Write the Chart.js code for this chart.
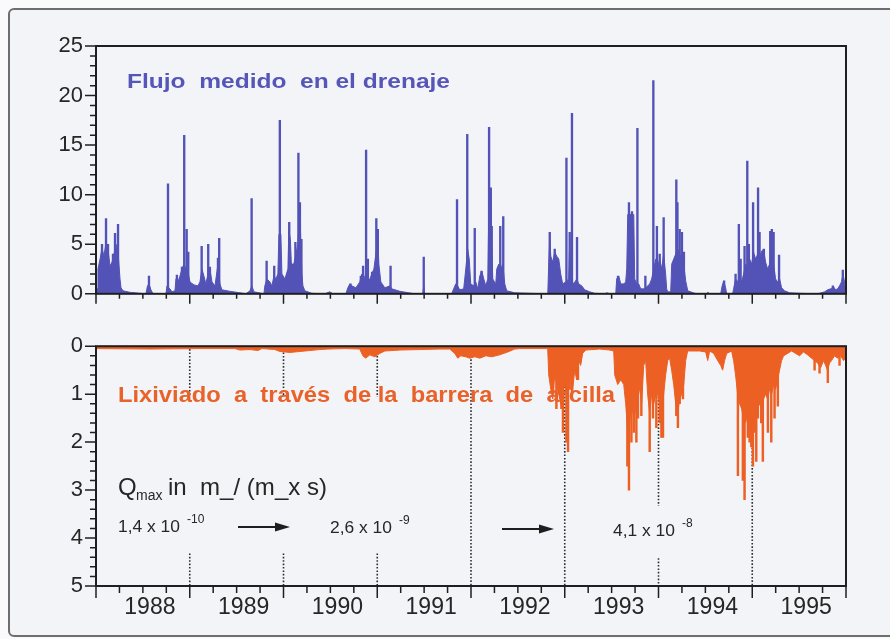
<!DOCTYPE html>
<html><head><meta charset="utf-8">
<script src="https://cdn.jsdelivr.net/npm/chart.js@4.4.1/dist/chart.umd.min.js"></script>
<style>
html,body{margin:0;padding:0;background:#fafafc;width:890px;height:639px;overflow:hidden;}
#frame{position:absolute;left:8px;top:8px;width:900px;height:625px;border:2px solid #6e6e6e;border-radius:6px;background:#f3f4f8;}
.cv{position:absolute;left:0;}
</style></head><body>
<div id="frame"></div>
<div class="cv" style="top:0"><canvas id="c1" width="890" height="320"></canvas></div>
<div class="cv" style="top:320px"><canvas id="c2" width="890" height="319"></canvas></div>
<script>
// ---------- categories / tick labels ----------
const yearLabels = ['1988','1989','1990','1991','1992','1993','1994','1995'];
const flowTicks = [0,5,10,15,20,25];
const leachTicks = [0,1,2,3,4,5];

// ---------- top panel: drainage flow (envelope + peaks) ----------
const flowEnvT = [
 1988.000,1988.011,1988.021,1988.043,1988.064,1988.085,1988.107,1988.128,1988.149,1988.171,1988.192,1988.213,1988.235,1988.256,1988.267,1988.288,1988.362,1988.469,
 1988.533,1988.549,1988.565,1988.586,1988.608,1988.746,1988.757,1988.789,1988.810,1988.842,1988.853,1988.874,1988.896,1988.917,1988.938,1988.959,1988.981,
 1989.002,1989.045,1989.087,1989.109,1989.130,1989.151,1989.172,1989.194,1989.215,1989.237,1989.269,1989.301,1989.322,1989.343,1989.428,1989.535,
 1989.599,1989.642,1989.663,1989.684,1989.791,1989.801,1989.823,1989.855,1989.876,1989.898,1989.919,1989.940,1989.951,1989.972,1989.983,
 1990.015,1990.047,1990.057,1990.073,1990.084,1990.110,1990.132,1990.153,1990.175,1990.185,1990.196,1990.207,1990.228,1990.302,1990.441,1990.494,1990.526,
 1990.665,1990.686,1990.708,1990.729,1990.772,1990.814,1990.836,1990.857,1990.878,1990.900,1990.921,1990.942,1990.964,1990.985,
 1991.006,1991.017,1991.038,1991.081,1991.134,1991.155,1991.241,1991.336,1991.400,1991.485,1991.496,1991.506,
 1991.794,1991.815,1991.837,1991.858,1991.880,1991.922,1991.944,1991.965,1991.981,1991.997,
 1992.029,1992.051,1992.072,1992.094,1992.115,1992.136,1992.158,1992.179,1992.189,1992.211,1992.221,1992.232,1992.264,1992.275,1992.296,1992.318,1992.339,1992.360,1992.381,1992.467,1992.627,
 1992.819,1992.829,1992.840,1992.851,1992.872,1992.893,1992.914,1992.936,1992.957,1992.978,
 1993.010,1993.042,1993.053,1993.064,1993.096,1993.128,1993.149,1993.181,1993.213,1993.266,1993.320,1993.426,1993.448,1993.480,
 1993.544,1993.554,1993.576,1993.597,1993.629,1993.650,1993.661,1993.672,1993.736,1993.746,1993.768,1993.789,1993.810,1993.842,1993.863,1993.906,1993.927,1993.949,1993.970,1993.991,
 1994.013,1994.034,1994.055,1994.076,1994.087,1994.098,1994.130,1994.141,1994.162,1994.183,1994.205,1994.226,1994.247,1994.269,1994.290,1994.312,1994.386,1994.439,
 1994.514,1994.525,1994.546,1994.663,1994.679,1994.695,1994.716,1994.727,1994.791,1994.801,1994.822,1994.844,1994.865,1994.886,1994.908,1994.929,1994.951,1994.972,1994.993,
 1995.014,1995.036,1995.057,1995.078,1995.100,1995.121,1995.142,1995.164,1995.185,1995.206,1995.228,1995.249,1995.270,1995.292,1995.313,1995.345,1995.398,1995.505,
 1995.697,1995.772,1995.804,1995.836,1995.868,1995.889,1995.910,1995.931,1995.952,1995.968,1995.984,1995.995];
const flowEnvV = [
 0,0.5,2.5,3.5,4.6,3.8,5.2,4.5,2.8,3.2,4.0,5.0,4.2,1.5,0.6,0.3,0.15,0.05,
 0,0.8,1.0,0.4,0,0,0.8,0.5,0.2,0.3,1.5,1.2,1.8,2.5,3.0,2.5,2.2,
 1.2,0.9,0.8,1.2,2.5,1.8,1.0,2.0,2.5,1.2,0.8,3.0,1.0,0.4,0.25,0.1,
 0,0.3,0.8,0.2,0,0.8,1.5,1.2,0.8,1.8,1.5,2.0,6.0,6.0,2.0,
 1.5,2.5,6.5,5.5,3.0,3.0,4.0,5.0,9.0,5.0,2.0,0.8,0.3,0.05,0,0.2,0,
 0,0.6,1.0,0.8,0.6,1.2,2.0,1.5,2.0,1.2,1.5,2.0,2.5,4.0,
 5.5,3.0,1.2,0.6,0.8,0.5,0.25,0.1,0,0,0.8,0,
 0,0.5,1.0,0.8,0.4,0.5,2.5,4.5,3.5,1.0,
 0.8,1.2,0.5,1.8,2.3,1.5,0.8,1.5,8.0,10.5,5.0,1.5,1.0,2.5,3.0,2.5,3.0,1.0,0.3,0.1,0.05,
 0,3.0,5.5,3.8,3.2,4.2,3.8,3.5,2.0,1.0,
 1.2,1.5,5.5,1.5,1.0,1.5,1.0,0.8,0.4,0.2,0.05,0,0.1,0,
 0,1.5,1.8,1.0,1.0,1.2,2.5,8.0,8.0,1.5,1.0,1.0,0.5,0.5,0.6,1.0,1.5,2.5,3.5,2.8,
 3.5,2.5,4.0,2.0,0.5,0.2,0.2,3.0,3.5,4.0,4.5,4.0,3.5,3.0,1.3,0.3,0.05,0,
 0,0.15,0,0,0.8,1.3,0.6,0,0,0.5,1.5,1.2,1.8,1.2,2.0,3.0,2.5,3.5,3.0,
 4.2,3.5,4.0,3.6,4.3,4.5,3.2,2.5,3.0,4.5,3.0,1.5,1.2,1.5,0.6,0.3,0.1,0.05,
 0,0.2,0.4,0.5,0.7,0.4,0.5,0.8,1.2,2.0,1.2,0.3];
const flowPeakT = [
 1988.064,1988.107,1988.128,1988.181,1988.203,1988.235,1988.565,1988.768,1988.863,1988.917,1988.941,1988.967,1988.984,
 1989.127,1989.197,1989.215,1989.301,1989.314,1989.660,1989.820,1989.901,1989.961,
 1990.061,1990.127,1990.159,1990.175,1990.191,1990.715,1990.825,1990.849,1990.881,1990.900,1990.945,1990.990,
 1991.006,1991.142,1991.496,1991.851,1991.960,
 1992.040,1992.112,1992.193,1992.211,1992.221,1992.312,1992.344,1992.840,1992.893,
 1993.018,1993.053,1993.077,1993.131,1993.568,1993.685,1993.717,1993.775,1993.860,1993.945,1993.983,
 1994.013,1994.055,1994.190,1994.202,1994.226,1994.250,1994.271,1994.700,1994.822,1994.857,1994.876,1994.918,1994.947,1994.964,
 1995.009,1995.062,1995.078,1995.124,1995.192,1995.209,1995.228,1995.286,1995.860,1995.966];
const flowPeakV = [
 5.0,7.6,5.0,4.0,6.1,7.0,1.8,11.1,1.9,2.7,16.0,6.5,4.2,
 4.8,5.0,2.7,3.6,5.6,9.6,3.3,2.8,17.5,
 7.2,5.2,14.2,9.2,5.5,1.0,1.8,2.8,14.5,3.5,2.2,7.6,
 6.5,2.8,3.7,9.5,16.1,
 6.6,2.3,16.8,10.7,6.8,6.8,7.8,6.2,4.5,
 13.7,6.2,18.2,5.7,1.8,9.2,8.3,16.7,1.8,21.5,6.8,
 4.0,7.7,11.5,9.2,6.5,6.2,4.2,1.3,2.0,7.0,3.5,4.8,13.4,5.0,
 9.2,10.7,6.2,4.5,6.3,6.5,6.2,3.9,0.8,2.4];

// ---------- bottom panel: leachate through clay barrier ----------
const leachEnvT = [
 1988.000,1988.576,1989.109,1989.482,1989.535,1989.642,1989.727,1989.770,1989.908,1989.961,1990.068,1990.175,1990.281,1990.388,1990.473,1990.654,1990.814,1990.846,1990.878,1990.921,1990.974,1991.027,1991.081,1991.241,1991.454,1991.667,1991.773,1991.827,1991.859,1991.891,1991.944,1991.987,
 1992.040,1992.094,1992.158,1992.221,1992.306,1992.392,1992.466,1992.520,1992.818,
 1992.829,1992.851,1992.872,1992.893,1992.914,1992.936,1992.957,1992.978,1992.999,1993.021,1993.042,1993.063,1993.085,1993.106,1993.127,1993.149,1993.170,1993.191,1993.223,1993.372,1993.479,1993.522,
 1993.533,1993.565,1993.597,1993.629,1993.650,1993.672,1993.693,1993.714,1993.736,1993.757,1993.778,1993.799,1993.820,1993.842,1993.863,1993.884,1993.906,1993.927,1993.949,1993.970,1993.991,
 1994.013,1994.034,1994.055,1994.076,1994.098,1994.119,1994.140,1994.162,1994.183,1994.204,1994.226,1994.247,1994.269,1994.290,1994.311,1994.439,1994.503,1994.525,1994.546,1994.588,1994.631,1994.663,1994.684,1994.705,1994.727,1994.780,
 1994.801,1994.822,1994.844,1994.865,1994.886,1994.908,1994.929,1994.951,1994.972,1994.993,
 1995.014,1995.036,1995.057,1995.078,1995.100,1995.121,1995.142,1995.164,1995.185,1995.206,1995.228,1995.249,1995.270,1995.291,1995.313,1995.334,1995.377,1995.419,1995.462,1995.505,1995.547,1995.590,1995.633,1995.665,1995.697,1995.729,1995.761,1995.782,1995.803,1995.825,1995.846,1995.878,1995.910,1995.942,1995.974,1995.995];
const leachEnvV = [
 0.05,0.06,0.05,0.05,0.08,0.07,0.09,0.05,0.07,0.11,0.13,0.11,0.09,0.07,0.06,0.05,0.06,0.2,0.25,0.18,0.22,0.15,0.1,0.08,0.07,0.06,0.06,0.15,0.25,0.2,0.22,0.25,
 0.22,0.25,0.2,0.22,0.18,0.12,0.06,0.05,0.05,
 0.6,0.9,1.1,0.6,0.8,1.0,1.2,1.0,0.8,1.0,0.7,0.6,0.9,0.5,0.7,0.3,0.4,0.15,0.08,0.06,0.08,0.1,
 0.6,0.8,0.7,0.8,1.2,1.8,1.6,1.2,1.5,1.3,1.0,0.9,1.2,0.4,0.3,1.0,1.4,1.0,1.2,1.0,1.0,
 1.2,1.5,1.0,0.6,0.3,0.25,0.5,0.8,1.2,1.4,1.1,1.0,0.8,0.3,0.1,0.1,0.12,0.3,0.1,0.15,0.3,0.4,0.5,0.3,0.15,0.1,
 0.3,0.6,1.0,1.2,1.3,1.5,1.6,1.4,1.5,1.6,
 1.5,1.4,1.3,1.2,1.3,1.1,1.0,1.1,0.9,1.0,0.8,0.9,0.7,0.5,0.3,0.2,0.15,0.1,0.15,0.2,0.12,0.18,0.25,0.3,0.35,0.45,0.3,0.4,0.5,0.35,0.3,0.2,0.25,0.2,0.3,0.25];
const leachPeakT = [
 1992.875,1992.911,1992.936,1992.964,1992.981,1993.018,1993.035,1993.053,1993.077,1993.141,
 1993.668,1993.685,1993.711,1993.736,1993.764,1993.781,1993.817,1993.906,1993.941,1993.977,1994.013,1994.031,1994.048,1994.190,1994.207,1994.226,1994.261,
 1994.847,1994.900,1994.918,1994.953,1994.972,1994.990,1995.007,1995.025,1995.043,1995.060,1995.096,1995.113,1995.167,1995.203,1995.238,1995.273,1995.665,1995.718,1995.806,1995.931];
const leachPeakV = [
 1.0,1.3,1.0,1.3,1.8,2.0,2.2,0.9,1.0,0.7,
 2.5,3.0,2.0,1.8,2.0,1.5,1.45,2.2,1.5,1.7,1.6,1.9,1.9,1.45,1.7,1.2,1.1,
 2.7,2.8,3.2,1.9,2.0,2.1,2.5,1.8,2.4,1.5,1.6,2.4,1.8,2.0,1.5,1.25,0.5,0.56,0.76,0.4];

// dotted guide lines at year boundaries (value ranges drawn on the leachate axis)
const guideYears = [1989,1990,1991,1992,1993,1994,1995];
const guideRanges = [[[0.06,1.02],[4.32,5]],[[0.06,1.06],[4.32,5]],[[0.06,1.06],[4.32,5]],[[0.06,5]],[[0.06,5]],[[0.06,3.33],[4.42,5]],[[0.06,5]]];

// ---------- styling ----------
const FONT = "'Liberation Sans', Arial, Helvetica, sans-serif";
const BLUE = '#5353b7', ORANGE = '#ec6024', AXIS = '#1f1f1f', TXT = '#262626';

function pts(T, V){
  if (T.length !== V.length) throw new Error('length mismatch ' + T.length + ' vs ' + V.length);
  return T.map((t,i)=>({x:t, y:V[i]}));
}
function fitText(ctx, txt, x, y, w){
  const m = ctx.measureText(txt).width;
  ctx.save(); ctx.translate(x, y); ctx.scale(w / m, 1); ctx.fillText(txt, 0, 0); ctx.restore();
}
function frameTicks(o){
  return { id:'frameTicks', afterDatasetsDraw(chart){
    const {ctx, chartArea:a, scales:{x, y}} = chart;
    ctx.save();
    ctx.strokeStyle = AXIS; ctx.lineWidth = 2;
    ctx.strokeRect(a.left, a.top, a.right - a.left, a.bottom - a.top);
    ctx.lineWidth = 1.5; ctx.beginPath();
    const nx = Math.round((x.max - x.min) / o.xStep);
    for (let k = 0; k <= nx; k++){
      const px = x.getPixelForValue(x.min + k * o.xStep);
      const len = (k % o.xMajorEvery === 0) ? o.xMajorLen : o.xMinorLen;
      ctx.moveTo(px, a.bottom); ctx.lineTo(px, a.bottom + len);
    }
    const ny = Math.round((o.yMax - o.yMin) / o.yStep);
    for (let k = 0; k <= ny; k++){
      const py = y.getPixelForValue(o.yMin + k * o.yStep);
      const len = (k % o.yMajorEvery === 0) ? o.yMajorLen : o.yMinorLen;
      ctx.moveTo(a.left - len, py); ctx.lineTo(a.left, py);
    }
    ctx.stroke(); ctx.restore();
  }};
}
const commonPlugins = {legend:{display:false}, tooltip:{enabled:false}};

// ---------- top chart ----------
new Chart(document.getElementById('c1'), {
  type:'line',
  data:{datasets:[
    {type:'line', data:pts(flowEnvT, flowEnvV), borderColor:BLUE, borderWidth:1, backgroundColor:BLUE, fill:'origin', pointRadius:0, tension:0},
    {type:'bar', data:pts(flowPeakT, flowPeakV), backgroundColor:BLUE, barThickness:1.7, grouped:false}
  ]},
  options:{
    responsive:false, animation:false, events:[],
    layout:{padding:{top:46, right:44, left:0, bottom:0}},
    plugins:commonPlugins,
    scales:{
      x:{type:'linear', min:1988, max:1996, offset:false, grid:{display:false, drawTicks:false}, border:{display:false}, ticks:{display:false}, afterFit:s=>{s.height = 24;}},
      y:{type:'linear', min:0, max:25, grid:{display:false, drawTicks:false}, border:{display:false},
         afterBuildTicks:s=>{s.ticks = flowTicks.map(v=>({value:v}));},
         ticks:{padding:13, color:TXT, font:{family:FONT, size:22}}, afterFit:s=>{s.width = 96;}}
    }
  },
  plugins:[frameTicks({xStep:0.25, xMajorEvery:4, xMajorLen:10, xMinorLen:5, yMin:0, yMax:25, yStep:1, yMajorEvery:5, yMajorLen:11, yMinorLen:6}),
    {id:'topTitle', afterDraw(chart){
      const ctx = chart.ctx; ctx.save();
      ctx.fillStyle = '#5656b9'; ctx.font = 'bold 21px ' + FONT; ctx.textBaseline = 'alphabetic';
      fitText(ctx, 'Flujo  medido  en el drenaje', 127, 88, 323);
      ctx.restore();
    }}]
});

// ---------- bottom chart ----------
new Chart(document.getElementById('c2'), {
  type:'line',
  data:{datasets:[
    {type:'line', data:pts(leachEnvT, leachEnvV), borderColor:ORANGE, borderWidth:1, backgroundColor:ORANGE, fill:'origin', pointRadius:0, tension:0},
    {type:'bar', data:pts(leachPeakT, leachPeakV), backgroundColor:ORANGE, barThickness:1.8, grouped:false}
  ]},
  options:{
    responsive:false, animation:false, events:[],
    layout:{padding:{top:17, right:44, left:0, bottom:0}},
    plugins:commonPlugins,
    scales:{
      x:{type:'linear', min:1988, max:1996, offset:false, grid:{display:false, drawTicks:false}, border:{display:false},
         afterBuildTicks:s=>{s.ticks = yearLabels.map((_,i)=>({value:1988.5 + i}));},
         ticks:{autoSkip:false, maxRotation:0, labelOffset:7, padding:8, color:TXT, font:{family:FONT, size:23}, callback:(v,i)=>yearLabels[i]},
         afterFit:s=>{s.height = 53;}},
      y:{type:'linear', min:0, max:5, reverse:true, grid:{display:false, drawTicks:false}, border:{display:false},
         afterBuildTicks:s=>{s.ticks = leachTicks.map(v=>({value:v}));},
         ticks:{padding:13, color:TXT, font:{family:FONT, size:22}}, afterFit:s=>{s.width = 96;}}
    }
  },
  plugins:[
    {id:'guides', beforeDatasetsDraw(chart){
      const {ctx, scales:{x, y}} = chart;
      ctx.save(); ctx.strokeStyle = '#2e2e2e'; ctx.lineWidth = 1.6; ctx.setLineDash([1.6, 1.8]);
      guideYears.forEach((yr, i)=>{
        const px = x.getPixelForValue(yr);
        guideRanges[i].forEach(r=>{ ctx.beginPath(); ctx.moveTo(px, y.getPixelForValue(r[0])); ctx.lineTo(px, y.getPixelForValue(r[1])); ctx.stroke(); });
      });
      ctx.restore();
    }},
    frameTicks({xStep:0.25, xMajorEvery:4, xMajorLen:12, xMinorLen:7, yMin:0, yMax:5, yStep:0.2, yMajorEvery:5, yMajorLen:11, yMinorLen:6}),
    {id:'notes', afterDraw(chart){
      const ctx = chart.ctx; ctx.save(); ctx.textBaseline = 'alphabetic';
      ctx.fillStyle = '#e9622a'; ctx.font = 'bold 22px ' + FONT;
      fitText(ctx, 'Lixiviado  a  través  de la  barrera  de  arcilla', 118, 82, 497);
      ctx.fillStyle = TXT;
      ctx.font = '24px ' + FONT; ctx.fillText('Q', 118, 175);
      ctx.font = '14px ' + FONT; ctx.fillText('max', 136, 180);
      ctx.font = '24px ' + FONT; fitText(ctx, 'in  m_/ (m_x s)', 168, 175, 159);
      const nums = [['1,4 x 10', '-10', 118, 212], ['2,6 x 10', '-9', 330, 213], ['4,1 x 10', '-8', 613, 216]];
      nums.forEach(n=>{
        ctx.font = '16px ' + FONT; fitText(ctx, n[0], n[2], n[3], 62);
        ctx.font = '12px ' + FONT; ctx.fillText(n[1], n[2] + 69, n[3] - 9);
      });
      ctx.strokeStyle = '#1e1e1e'; ctx.fillStyle = '#1e1e1e'; ctx.lineWidth = 2;
      [[238, 290, 207], [502, 554, 209]].forEach(a=>{
        ctx.beginPath(); ctx.moveTo(a[0], a[2]); ctx.lineTo(a[1] - 10, a[2]); ctx.stroke();
        ctx.beginPath(); ctx.moveTo(a[1], a[2]); ctx.lineTo(a[1] - 15, a[2] - 4.5); ctx.lineTo(a[1] - 15, a[2] + 4.5); ctx.closePath(); ctx.fill();
      });
      ctx.restore();
    }}]
});
</script>
</body></html>
